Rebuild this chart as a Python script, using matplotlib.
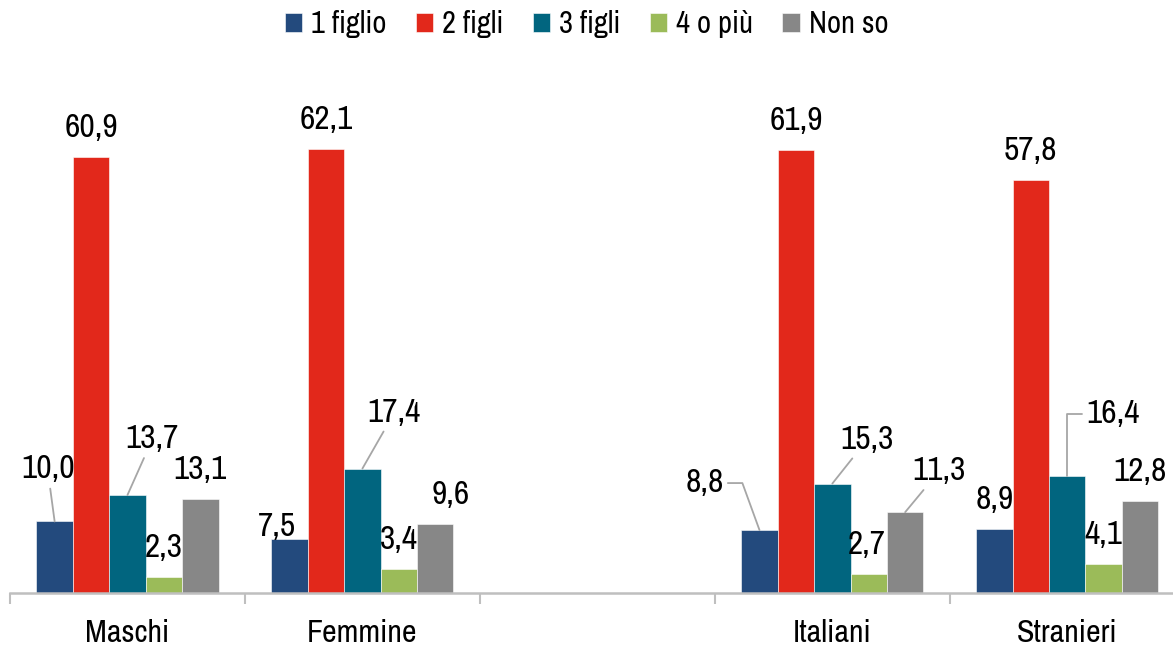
import numpy as np
import matplotlib.pyplot as plt

plt.rcParams['font.family'] = ['Archivo Narrow', 'Roboto Condensed', 'Liberation Sans', 'DejaVu Sans']

# Data (percentages); third slot is an empty spacer
categories = ['Maschi', 'Femmine', '', 'Italiani', 'Stranieri']
series = ['1 figlio', '2 figli', '3 figli', '4 o più', 'Non so']
values = {
    '1 figlio': [10.0, 7.5, np.nan, 8.8, 8.9],
    '2 figli': [60.9, 62.1, np.nan, 61.9, 57.8],
    '3 figli': [13.7, 17.4, np.nan, 15.3, 16.4],
    '4 o più': [2.3, 3.4, np.nan, 2.7, 4.1],
    'Non so': [13.1, 9.6, np.nan, 11.3, 12.8],
}
colors = ['#234A7D', '#E2281B', '#01657F', '#9BBB59', '#878787']

# label placement tweaks: (category index, series index) -> (dx px, dy px, connector)
label_tweaks = {
    (0, 0): (-7, 52, 'arc3'),
    (0, 2): (25, 56, 'arc3'),
    (1, 0): (-13, 12, None),
    (1, 2): (32, 56, 'arc3'),
    (1, 4): (15, 29, None),
    (3, 0): (-55, 47, 'angle,angleA=0,angleB=110,rad=0'),
    (3, 2): (35, 44, 'arc3'),
    (3, 4): (34, 41, 'arc3'),
    (3, 3): (-2, 29, None),
    (4, 2): (46, 62, 'angle,angleA=0,angleB=90,rad=0'),
}

fig = plt.figure(figsize=(11.73, 6.46), dpi=100)
ax = fig.add_axes([10 / 1173, 53 / 646, 1163 / 1173, 515 / 646])

x = np.arange(len(categories))
width = 0.155
for i, (name, col) in enumerate(zip(series, colors)):
    vals = np.array(values[name])
    xs = x + (i - 2) * width
    ax.bar(xs, vals, width, color=col, label=name, edgecolor='white', linewidth=0.4)
    for j, v in enumerate(vals):
        if np.isnan(v):
            continue
        txt = f'{v:.1f}'.replace('.', ',')
        dx, dy, conn = label_tweaks.get((j, i), (0, 29, None))
        arrow = None
        if conn:
            arrow = dict(arrowstyle='-', color='#A6A6A6', lw=1.3,
                         connectionstyle=conn, shrinkA=1, shrinkB=0)
        ax.annotate(txt, xy=(xs[j], v), xytext=(dx, dy),
                    textcoords='offset pixels', ha='center', va='center',
                    fontsize=24, color='black', arrowprops=arrow)

ax.set_xlim(-0.5, 4.45)
ax.set_ylim(0, 72)

ax.set_xticks(x)
ax.set_xticklabels(categories, fontsize=23)
ax.tick_params(axis='x', which='major', length=0, pad=19)
ax.set_xticks(np.arange(-0.5, 4.5, 1.0), minor=True)
ax.tick_params(axis='x', which='minor', length=8, width=1.5, color='#BFBFBF')
ax.set_yticks([])

for s in ['top', 'right', 'left']:
    ax.spines[s].set_visible(False)
ax.spines['bottom'].set_color('#BFBFBF')
ax.spines['bottom'].set_linewidth(1.8)

fig.legend(loc='upper center', bbox_to_anchor=(0.5, 1.008), ncol=5, frameon=False,
           fontsize=22, handlelength=0.57, handleheight=0.6, handletextpad=0.3,
           columnspacing=0.95, borderaxespad=0.1)

fig.savefig('out.png', dpi=100)
